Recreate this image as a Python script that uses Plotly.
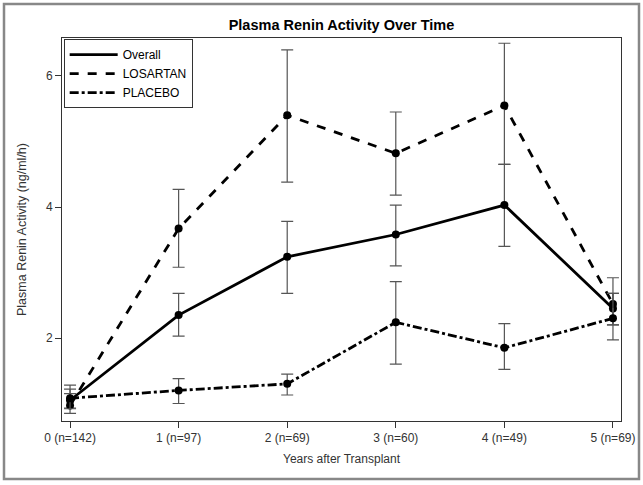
import plotly.graph_objects as go

years = [0, 1, 2, 3, 4, 5]
tick_labels = ["0 (n=142)", "1 (n=97)", "2 (n=69)", "3 (n=60)", "4 (n=49)", "5 (n=69)"]

overall = [1.05, 2.35, 3.24, 3.58, 4.03, 2.45]
overall_hi = [1.22, 2.68, 3.78, 4.03, 4.65, 2.68]
overall_lo = [0.93, 2.03, 2.68, 3.10, 3.40, 2.20]

losartan = [0.97, 3.67, 5.40, 4.82, 5.55, 2.52]
losartan_hi = [1.15, 4.27, 6.40, 5.45, 6.50, 2.92]
losartan_lo = [0.85, 3.08, 4.38, 4.18, 4.65, 2.20]

placebo = [1.08, 1.20, 1.30, 2.24, 1.85, 2.30]
placebo_hi = [1.28, 1.38, 1.45, 2.86, 2.22, 2.68]
placebo_lo = [0.92, 1.00, 1.13, 1.60, 1.52, 1.97]

series = [
    ("Overall", overall, overall_hi, overall_lo, "solid"),
    ("LOSARTAN", losartan, losartan_hi, losartan_lo, "dash"),
    ("PLACEBO", placebo, placebo_hi, placebo_lo, "dashdot"),
]

FONT = "Arial, Liberation Sans, sans-serif"
fig = go.Figure()
for name, vals, hi, lo, dash in series:
    fig.add_trace(go.Scatter(
        x=years, y=vals, name=name, mode="lines+markers", showlegend=False,
        line=dict(color="black", width=2.8, dash=dash),
        marker=dict(color="black", size=8, symbol="circle"),
        error_y=dict(type="data", symmetric=False,
                     array=[h - v for h, v in zip(hi, vals)],
                     arrayminus=[v - l for v, l in zip(vals, lo)],
                     color="#555555", thickness=1.2, width=6),
    ))
# legend entries (lines only, as in the reference legend)
for name, vals, hi, lo, dash in series:
    fig.add_trace(go.Scatter(
        x=[None], y=[None], name=name, mode="lines",
        line=dict(color="black", width=2.8, dash=dash),
    ))

fig.update_layout(
    width=643, height=485,
    margin=dict(l=62, r=22, t=38, b=64, autoexpand=False),
    paper_bgcolor="white", plot_bgcolor="white",
    font=dict(family=FONT, size=12, color="#333333"),
    title=dict(text="<b>Plasma Renin Activity Over Time</b>", x=0.5, xref="paper",
               y=1 - 25 / 485, yanchor="middle",
               font=dict(family=FONT, size=14.5, color="black")),
    xaxis=dict(range=[-0.074, 5.074], tickmode="array", tickvals=years, ticktext=tick_labels,
               ticks="outside", ticklen=6, tickcolor="#333", showgrid=False, zeroline=False,
               showline=True, linecolor="#333", linewidth=1, mirror=True,
               title=dict(text="Years after Transplant", font=dict(size=12, color="#333"), standoff=10),
               tickfont=dict(size=12, color="#333")),
    yaxis=dict(range=[0.733, 6.58], tickvals=[2, 4, 6], ticks="outside", ticklen=6,
               tickcolor="#333", showgrid=False, zeroline=False,
               showline=True, linecolor="#333", linewidth=1, mirror=True,
               title=dict(text="Plasma Renin Activity (ng/ml/h)", font=dict(size=12.5, color="#333"), standoff=16),
               tickfont=dict(size=12, color="#333")),
    legend=dict(x=0.003, y=0.997, xanchor="left", yanchor="top",
                bgcolor="white", bordercolor="#333", borderwidth=1,
                font=dict(size=12, color="black"), tracegroupgap=0, itemwidth=48),
    showlegend=True,
)

fig.add_shape(type="rect", xref="paper", yref="paper",
              x0=(4 - 62) / 559, x1=(639 - 62) / 559,
              y0=(421 - 479) / 383, y1=(421 - 4) / 383,
              line=dict(color="#888888", width=2.5), fillcolor="rgba(0,0,0,0)", layer="above")

fig.write_html("out.html", config={"displayModeBar": False},
               post_script="document.body.style.margin='0';document.body.style.overflow='hidden';")
